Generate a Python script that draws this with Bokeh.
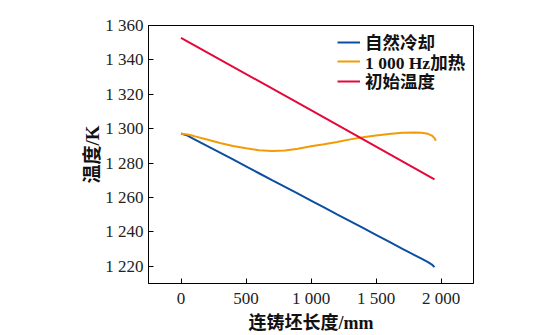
from bokeh.plotting import figure
from bokeh.models import Range1d, FixedTicker, Legend, Title
from bokeh.embed import file_html
from bokeh.resources import INLINE

# ---------------- data ----------------
series_names = ["自然冷却", "1 000 Hz加热", "初始温度"]
series_colors = ["#0b4ea2", "#f29b05", "#e4093a"]

x_natural = [0, 50, 100, 200, 300, 400, 500, 600, 700, 800, 900, 1000, 1100,
             1200, 1300, 1400, 1500, 1600, 1700, 1800, 1850, 1900, 1930, 1950]
t_natural = [1297.2, 1296.0, 1294.0, 1290.0, 1286.1, 1282.1, 1278.1, 1274.1,
             1270.1, 1266.2, 1262.2, 1258.2, 1254.2, 1250.2, 1246.3, 1242.3,
             1238.3, 1234.3, 1230.3, 1226.4, 1224.4, 1222.4, 1221.0, 1219.5]

x_heat = [0, 50, 100, 200, 300, 400, 500, 600, 700, 800, 900, 1000, 1100, 1200,
          1300, 1400, 1500, 1600, 1700, 1800, 1850, 1900, 1930, 1950, 1960]
t_heat = [1297.0, 1296.6, 1295.7, 1293.7, 1291.7, 1290.0, 1288.6, 1287.5,
          1287.1, 1287.3, 1288.3, 1289.8, 1291.0, 1292.3, 1293.8, 1295.0,
          1296.0, 1296.9, 1297.6, 1297.8, 1297.6, 1297.0, 1296.0, 1294.5, 1293.0]

x_initial = [0, 1000, 1950]
t_initial = [1352.8, 1310.8, 1270.6]

x_ticks = [0, 500, 1000, 1500, 2000]
x_tick_labels = ["0", "500", "1 000", "1 500", "2 000"]
y_ticks = [1220, 1240, 1260, 1280, 1300, 1320, 1340, 1360]
y_tick_labels = ["1 220", "1 240", "1 260", "1 280", "1 300", "1 320", "1 340", "1 360"]

x_title = "连铸坯长度/mm"
y_title = "温度/K"

# ---------------- figure ----------------
SERIF = "Liberation Serif"
MIXED = "Liberation Serif, Noto Sans CJK SC"

p = figure(width=550, height=335, output_backend="svg", toolbar_location=None,
           x_range=Range1d(-250, 2250), y_range=Range1d(1210, 1360))
p.min_border_left = 148
p.min_border_right = 77
p.min_border_top = 25
p.min_border_bottom = 51
p.background_fill_color = "white"
p.border_fill_color = "white"
p.outline_line_color = "black"
p.outline_line_width = 1
p.xgrid.visible = False
p.ygrid.visible = False

renderers = []
for xs, ys, c in zip([x_natural, x_heat, x_initial],
                     [t_natural, t_heat, t_initial], series_colors):
    r = p.line(xs, ys, line_color=c, line_width=2)
    renderers.append(r)

for ax, ticks, labels in [(p.xaxis[0], x_ticks, x_tick_labels),
                          (p.yaxis[0], y_ticks, y_tick_labels)]:
    ax.ticker = FixedTicker(ticks=ticks)
    ax.major_label_overrides = {t: l for t, l in zip(ticks, labels)}
    ax.minor_tick_line_color = None
    ax.major_tick_in = 5
    ax.major_tick_out = 0
    ax.major_tick_line_color = "black"
    ax.axis_line_color = "black"
    ax.major_label_text_font = SERIF
    ax.major_label_text_font_size = "17px"
    ax.major_label_text_color = "#222222"
    ax.major_label_standoff = 5

p.xaxis.axis_label = x_title
p.xaxis.axis_label_text_font = MIXED
p.xaxis.axis_label_text_font_style = "bold"
p.xaxis.axis_label_text_font_size = "18px"
p.xaxis.axis_label_text_color = "#111111"
p.xaxis.axis_label_standoff = 2

ytitle = Title(text=y_title, align="center",
               text_font=MIXED, text_font_style="bold", text_font_size="19px",
               text_color="#111111", standoff=0)
p.add_layout(ytitle, "left")

# one legend per entry so the row pitch matches the reference
legend_bottoms = [229, 209.5, 190]   # screen px from frame bottom (legend box bottoms)
for name, r, vy in zip(series_names, renderers, legend_bottoms):
    lg = Legend(items=[(name, [r])], location=(189, vy))
    lg.border_line_color = None
    lg.background_fill_alpha = 0
    lg.label_text_font = MIXED
    lg.label_text_font_style = "bold"
    lg.label_text_font_size = "17.5px"
    lg.label_text_color = "#111111"
    lg.glyph_width = 23
    lg.glyph_height = 16
    lg.label_height = 16
    lg.label_standoff = 5
    lg.padding = 0
    lg.margin = 0
    p.add_layout(lg)

open("out.html", "w").write(file_html(p, INLINE))
